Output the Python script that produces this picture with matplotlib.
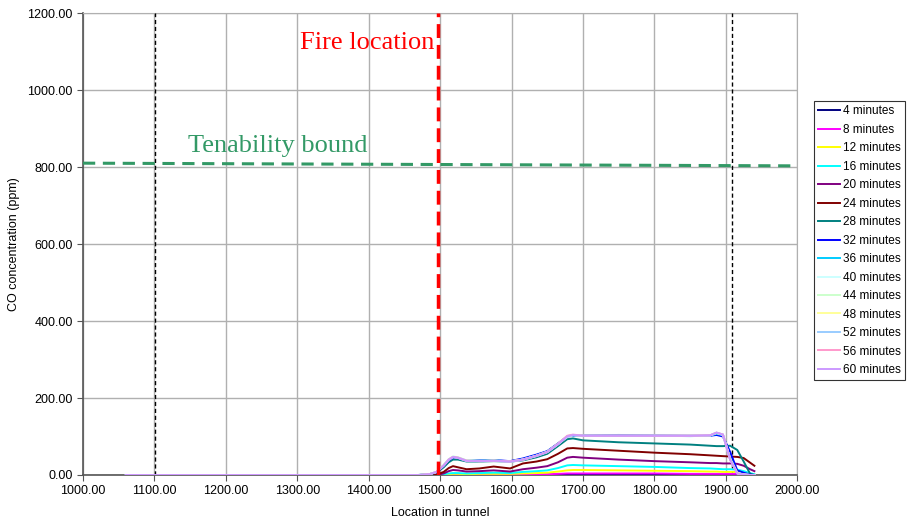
import numpy as np
import matplotlib.pyplot as plt
from matplotlib.lines import Line2D

plt.rcParams['font.family'] = ['Liberation Sans', 'DejaVu Sans']

# Location in tunnel (shared by all series)
x = [1060, 1470, 1485, 1495, 1505, 1512, 1518, 1525, 1537, 1555, 1575, 1598, 1616, 1635, 1650,
     1665, 1678, 1686, 1700, 1750, 1800, 1850, 1878, 1887, 1896, 1906, 1916, 1925, 1934, 1940]

labels = ['4 minutes', '8 minutes', '12 minutes', '16 minutes', '20 minutes', '24 minutes',
          '28 minutes', '32 minutes', '36 minutes', '40 minutes', '44 minutes', '48 minutes',
          '52 minutes', '56 minutes', '60 minutes']
colors = ['#000080', '#FF00FF', '#FFFF00', '#00FFFF', '#800080', '#800000', '#008080',
          '#0000FF', '#00CCFF', '#CCFFFF', '#CCFFCC', '#FFFF99', '#99CCFF', '#FF99CC', '#CC99FF']

# CO concentration (ppm)
co_4 = [0, 0, 0, 0, 0, 0, 1, 1, 0, 0, 0, 0, 1, 1, 1, 1, 1, 1, 1, 1, 1, 1, 1, 1, 1, 1, 1, 0, 0, 0]
co_8 = [0, 0, 0, 0, 0, 1, 1, 1, 1, 1, 1, 1, 2, 2, 2, 3, 4, 4, 4, 4, 4, 3, 3, 3, 3, 3, 3, 2, 1, 0]
co_12 = [0, 0, 0, 0, 1, 2, 3, 3, 2, 3, 3, 3, 4, 5, 6, 9, 12, 13, 13, 12, 11, 10, 9, 9, 8, 8, 8, 6, 3, 1]
co_16 = [0, 0, 0, 0, 2, 4, 5, 5, 4, 5, 6, 5, 8, 10, 12, 18, 25, 26, 25, 23, 21, 18, 17, 16, 15, 15, 14, 10, 5, 2]
co_20 = [0, 0, 0, 0, 4, 10, 13, 12, 9, 10, 12, 9, 15, 19, 23, 33, 45, 47, 45, 40, 36, 33, 31, 31, 30, 30, 29, 24, 15, 10]
co_24 = [0, 0, 0, 1, 8, 18, 23, 20, 15, 17, 22, 17, 30, 35, 41, 55, 69, 70, 68, 63, 58, 54, 51, 50, 49, 48, 47, 44, 32, 24]
co_28 = [0, 0, 2, 6, 20, 33, 40, 40, 35, 35, 36, 35, 38, 46, 55, 75, 93, 95, 90, 85, 82, 79, 76, 75, 75, 76, 65, 35, 3, 0]
co_32 = [0, 0, 2, 7, 24, 38, 45, 44, 37, 38, 39, 36, 43, 53, 62, 82, 100, 102, 103, 104, 103, 102, 102, 104, 100, 60, 12, 6, 1, 0]
co_36 = [0, 0, 2, 8, 25, 40, 47, 45, 37, 37, 38, 35, 41, 51, 61, 81, 100, 103, 102, 102, 102, 101, 102, 107, 103, 45, 6, 2, 0, 0]
co_40 = [0, 0, 2, 8, 26, 41, 48, 46, 38, 36, 37, 35, 40, 50, 60, 80, 99, 103, 102, 102, 102, 102, 103, 109, 104, 42, 5, 1, 0, 0]
co_44 = [0, 0, 2, 8, 26, 41, 48, 46, 38, 37, 38, 35, 40, 50, 60, 80, 100, 104, 102, 102, 102, 102, 103, 109, 105, 42, 5, 1, 0, 0]
co_48 = [0, 0, 2, 8, 25, 40, 47, 45, 37, 36, 37, 35, 40, 50, 60, 81, 101, 104, 102, 102, 102, 102, 103, 110, 105, 41, 5, 1, 0, 0]
co_52 = [0, 0, 2, 8, 24, 39, 46, 44, 36, 36, 37, 34, 39, 49, 59, 80, 101, 104, 102, 102, 102, 102, 103, 110, 105, 40, 4, 1, 0, 0]
co_56 = [0, 0, 2, 8, 25, 40, 47, 45, 37, 36, 37, 35, 40, 50, 60, 81, 102, 105, 102, 102, 102, 102, 103, 110, 105, 40, 4, 1, 0, 0]
co_60 = [0, 0, 2, 8, 25, 40, 47, 45, 37, 36, 37, 35, 40, 50, 60, 80, 100, 104, 102, 102, 102, 102, 103, 110, 105, 40, 4, 1, 0, 0]
series = [co_4, co_8, co_12, co_16, co_20, co_24, co_28, co_32, co_36, co_40,
          co_44, co_48, co_52, co_56, co_60]

# Reference markers
tenability_x = [1000, 2000]
tenability_y = [810, 803]
fire_x = 1497
exits_x = [1101, 1908]

fig = plt.figure(figsize=(9.07, 5.21), dpi=100)
ax = fig.add_axes([0.0915, 0.0883, 0.7875, 0.8867])

ax.set_xlim(1000, 2000)
ax.set_ylim(0, 1200)
ax.set_xticks(np.arange(1000, 2001, 100))
ax.set_yticks(np.arange(0, 1201, 200))
ax.xaxis.set_major_formatter(plt.FormatStrFormatter('%.2f'))
ax.yaxis.set_major_formatter(plt.FormatStrFormatter('%.2f'))
ax.grid(True, color='#b0b0b0', lw=1)
ax.set_axisbelow(True)
for s in ['top', 'right']:
    ax.spines[s].set_color('#b0b0b0')
for s in ['left', 'bottom']:
    ax.spines[s].set_color('#555555')
    ax.spines[s].set_linewidth(1.2)
ax.tick_params(labelsize=9, length=4, color='#555555')

# exits and fire
for ex in exits_x:
    ax.axvline(ex, color='black', lw=1, ls=(0, (3, 2)), zorder=3)
ax.axvline(fire_x, color='red', lw=2.5, ls=(0, (4, 2)), zorder=5)
ax.plot(tenability_x, tenability_y, color='#339966', lw=2.2, ls=(0, (4, 2.5)), zorder=4)

handles = []
for vals, c, lab in zip(series, colors, labels):
    ax.plot(x, vals, color=c, lw=1.4, zorder=4)
    handles.append(Line2D([], [], color=c, lw=1.4))

ax.text(1147, 825, 'Tenability bound', color='#339966', fontsize=19,
        family='Liberation Serif', ha='left', va='bottom')
ax.text(1492, 1122, 'Fire location', color='red', fontsize=19,
        family='Liberation Serif', ha='right', va='center')

ax.set_xlabel('Location in tunnel', fontsize=9, labelpad=7)
ax.set_ylabel('CO concentration (ppm)', fontsize=9, labelpad=5)

leg = fig.legend(handles, labels, loc='upper left', bbox_to_anchor=(0.897, 0.806),
                 fontsize=8.5, frameon=True, fancybox=False, edgecolor='black',
                 handlelength=1.9, handletextpad=0.2, labelspacing=0.55,
                 borderpad=0.35, borderaxespad=0)
leg.get_frame().set_linewidth(0.8)

fig.savefig('out.png', dpi=100)
